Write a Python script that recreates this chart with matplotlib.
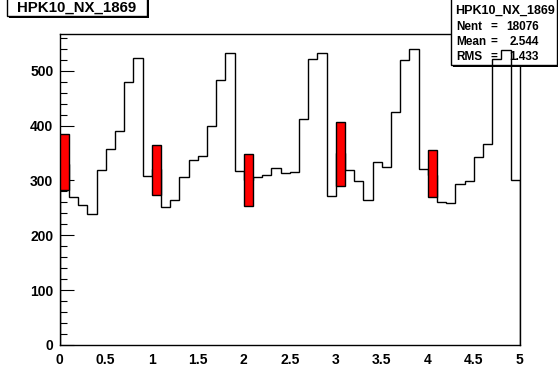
import numpy as np
import matplotlib
matplotlib.use("Agg")
from matplotlib import pyplot as plt
from matplotlib.patches import Rectangle

# histogram contents, 50 bins between 0 and 5
edges = np.linspace(0, 5, 51)
counts = [330, 270, 255, 239, 319, 358, 390, 480, 523, 308,
          320, 252, 265, 306, 338, 345, 399, 484, 533, 317,
          300, 307, 310, 323, 313, 315, 412, 522, 533, 271,
          350, 319, 299, 264, 333, 324, 424, 519, 539, 321,
          310, 260, 258, 293, 299, 343, 366, 521, 537, 301]

# red boxes (left edge, low, high)
red_x = [0, 1, 2, 3, 4]
red_lo = [283, 273, 254, 289, 269]
red_hi = [385, 364, 348, 407, 355]

hname = "HPK10_NX_1869"
stat_labels = ["Nent", "Mean", "RMS"]
stat_values = ["18076", "2.544", "1.433"]

W, H = 558, 372
plt.rcParams['font.family'] = ['Liberation Sans', 'DejaVu Sans']
plt.rcParams['font.weight'] = 'bold'

fig = plt.figure(figsize=(W / 100, H / 100), dpi=100)
ax = fig.add_axes([59.7 / W, 1 - 345 / H, 460 / W, 311 / H])

def px(x, y):
    return (x / W, 1 - y / H)

ax.stairs(counts, edges, color='black', lw=1.0, zorder=3)
ax.bar(red_x, np.array(red_hi) - np.array(red_lo), width=0.1, bottom=red_lo,
       align='edge', color='red', edgecolor='black', lw=1.0, zorder=3.1)

ax.set_xlim(0, 5)
ax.set_ylim(0, 567)
ax.set_xticks(np.arange(0, 5.01, 0.5))
ax.set_xticklabels(["0", "0.5", "1", "1.5", "2", "2.5", "3", "3.5", "4", "4.5", "5"])
ax.set_yticks(np.arange(0, 501, 100))
ax.set_yticks(np.arange(0, 567, 20), minor=True)
ax.tick_params(axis='y', which='major', direction='in', length=10, width=0.8,
               pad=4.5, labelsize=10)
ax.tick_params(axis='y', which='minor', direction='in', length=5, width=0.8)
ax.tick_params(axis='x', which='both', length=0, pad=6, labelsize=10)
for s in ax.spines.values():
    s.set_linewidth(1.0)

# title box
x0, y0 = px(7, 16)
x1, y1 = px(147, 0)
fig.patches.append(Rectangle(px(9, 18), x1 - x0, y1 - y0 + 0.01, transform=fig.transFigure,
                             facecolor='black', edgecolor='none', zorder=1))
fig.patches.append(Rectangle((x0, y0), x1 - x0, y1 - y0 + 0.01, transform=fig.transFigure,
                             facecolor='white', edgecolor='black', lw=1.0, zorder=1.1))
fig.text(*px(77, 7.5), hname, ha='center', va='center', fontsize=10.8,
         fontweight='bold', zorder=2)

# stats box (drawn below the histogram line)
bx0, by0 = px(451, 65)
bx1, by1 = px(557, 0)
ax.add_patch(Rectangle(px(453, 67), bx1 - bx0, by1 - by0 + 0.01, transform=fig.transFigure,
                       facecolor='black', edgecolor='none', clip_on=False, zorder=2.6))
ax.add_patch(Rectangle((bx0, by0), bx1 - bx0, by1 - by0 + 0.01, transform=fig.transFigure,
                       facecolor='white', edgecolor='black', lw=1.0, clip_on=False, zorder=2.7))
ax.text(*px(505, 11), hname, transform=fig.transFigure, ha='center', va='center',
        fontsize=9, fontweight='bold', zorder=2.8)
for i, (lab, val) in enumerate(zip(stat_labels, stat_values)):
    yy = 27 + i * 15
    ax.text(*px(456, yy), lab, transform=fig.transFigure, ha='left', va='center',
            fontsize=8.5, fontweight='bold', zorder=2.8)
    ax.text(*px(494, yy), "=", transform=fig.transFigure, ha='center', va='center',
            fontsize=8.5, fontweight='bold', zorder=2.8)
    ax.text(*px(539, yy), val, transform=fig.transFigure, ha='right', va='center',
            fontsize=8.5, fontweight='bold', zorder=2.8)

fig.savefig("out.png", dpi=100)
